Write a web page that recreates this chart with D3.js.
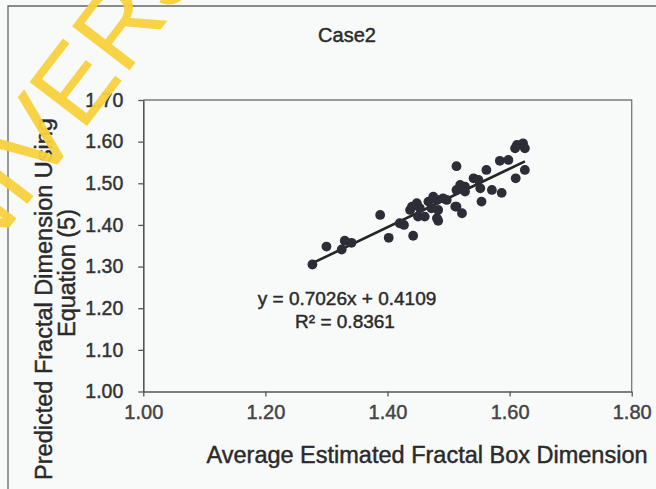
<!DOCTYPE html>
<html>
<head>
<meta charset="utf-8">
<script src="https://cdn.jsdelivr.net/npm/d3@7"></script>
<style>
  body { margin: 0; background: #f8f9f9; }
  svg { display: block; font-family: "Liberation Sans", Arial, sans-serif; }
  .ink { stroke-width: 0.45px; paint-order: stroke; }
</style>
</head>
<body>
<svg id="chart" width="656" height="489"></svg>
<script>
// values
let xValues = [1.277,1.300,1.325,1.330,1.341,1.388,1.402,1.420,1.427,1.442,
  1.437,1.440,1.448,1.453,1.450,1.461,1.467,1.472,1.481,1.483,1.481,1.491,1.483,1.513,1.497,1.511,1.522,1.475,1.513,1.527,1.519,1.527,
  1.513,1.562,1.541,1.549,1.552,1.571,1.587,1.554,1.584,1.598,1.612,1.622,1.625,1.609,1.625,1.610];
let yValues = [1.305,1.348,1.341,1.362,1.357,1.424,1.369,1.404,1.400,1.374,
  1.436,1.444,1.452,1.440,1.420,1.420,1.456,1.440,1.460,1.436,1.416,1.464,1.410,1.444,1.460,1.444,1.428,1.468,1.484,1.492,1.496,1.480,
  1.541,1.532,1.512,1.508,1.488,1.484,1.477,1.456,1.554,1.556,1.592,1.596,1.584,1.584,1.532,1.512];
let xTicks = [1.00,1.20,1.40,1.60,1.80];
let yTicks = [1.00,1.10,1.20,1.30,1.40,1.50,1.60,1.70];
let slope = 0.7026;
let intercept = 0.4109;
let rSquared = 0.8361;

function drawCase(svgId)
{
    let svg = d3.select("#"+svgId);
    let left = 143.3, right = 631.7, top = 100, bottom = 391.5; // plot area

    let points = xValues.map((x,i) => ({x: x, y: yValues[i]}));

    let xScale = d3.scaleLinear().domain([1.0,1.8]).range([left,right]);
    let yScale = d3.scaleLinear().domain([1.0,1.7]).range([bottom,top]);

    // outer chart frame (only left and top edges are inside the photo)
    svg.append("path")
        .attr("d","M8,489V6H656")
        .attr("fill","none")
        .attr("stroke","#666")
        .attr("stroke-width",1.3);

    // plot area border top and right
    svg.append("path")
        .attr("d","M"+left+","+top+"H"+right+"V"+bottom)
        .attr("fill","none")
        .attr("stroke","#7a7a7a")
        .attr("stroke-width",1.3);

    let xAxis = d3.axisBottom(xScale).tickValues(xTicks).tickFormat(d3.format(".2f"))
        .tickSizeInner(5).tickSizeOuter(0).tickPadding(8.5);
    let yAxis = d3.axisLeft(yScale).tickValues(yTicks).tickFormat(d3.format(".2f"))
        .tickSizeInner(5).tickSizeOuter(0).tickPadding(15);

    let gx = svg.append("g")
        .attr("transform","translate(0,"+bottom+")")
        .call(xAxis);
    let gy = svg.append("g")
        .attr("transform","translate("+left+",0)")
        .call(yAxis);

    [gx,gy].forEach(g => {
        g.select(".domain").attr("stroke","#555").attr("stroke-width",1.6);
        g.selectAll(".tick line").attr("stroke","#555").attr("stroke-width",1.3);
        g.selectAll(".tick text")
            .attr("class","ink")
            .attr("fill","#333").attr("stroke","#333")
            .style("font-family","'Liberation Sans', Arial, sans-serif");
    });
    gx.selectAll(".tick text").style("font-size","20px").attr("fill","#444").attr("stroke","#444");
    gy.selectAll(".tick text").style("font-size","19.5px");

    // trendline across the data range
    let xExt = d3.extent(xValues);
    svg.append("line")
        .attr("x1",xScale(xExt[0])).attr("y1",yScale(slope*xExt[0]+intercept))
        .attr("x2",xScale(xExt[1])).attr("y2",yScale(slope*xExt[1]+intercept))
        .attr("stroke","#252525")
        .attr("stroke-width",2.6);

    svg.selectAll(".dot")
        .data(points)
        .enter()
        .append("circle")
        .attr("class","dot")
        .attr("cx",d => xScale(d.x))
        .attr("cy",d => yScale(d.y))
        .attr("r",4.9)
        .attr("fill","#2d2d38");

    function label(x,y,size,str,rot)
    {
        return svg.append("text")
            .attr("class","ink")
            .attr("transform","translate("+x+","+y+")"+(rot ? " rotate(-90)" : ""))
            .attr("text-anchor","middle")
            .attr("fill","#2a2a2a").attr("stroke","#2a2a2a")
            .style("font-size",size+"px")
            .text(str);
    }

    label(347,42,20,"Case2");                                   // title
    label(347,305,19,"y = "+slope+"x + "+intercept);            // trendline equation
    label(345,328,19,"R\u00b2 = "+rSquared);
    label(427,463,23.5,"Average Estimated Fractal Box Dimension"); // axis titles
    label(52,299,23.5,"Predicted Fractal Dimension Using",true);
    label(75,273,23.5,"Equation (5)",true);

    // watermark across the top left corner
    svg.append("text")
        .attr("transform","translate(-70.6,332) rotate(-52.6)")
        .attr("fill","#f7d13c")
        .attr("opacity",0.95)
        .style("font-size","105px")
        .text("UNIVERSITY");
}

drawCase("chart");
</script>
</body>
</html>
